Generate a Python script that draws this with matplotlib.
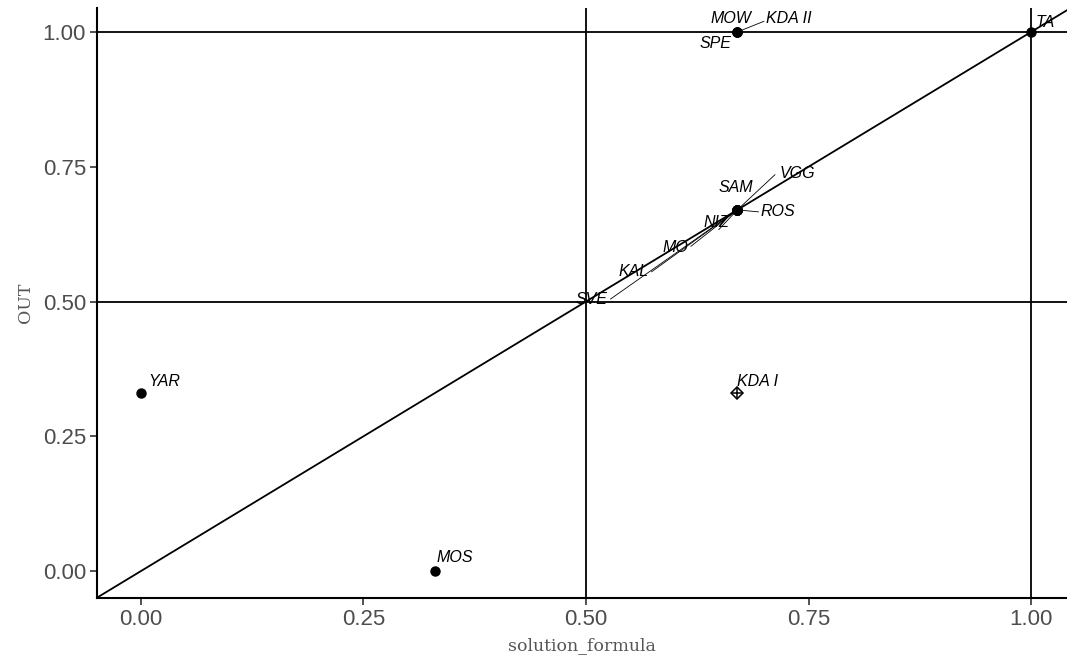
import matplotlib
matplotlib.use("Agg")
import matplotlib.pyplot as plt

# ---- data ----
cases = ["YAR", "MOS", "KDA I", "TA", "MOW", "KDA II", "SPE",
         "SAM", "VGG", "ROS", "NIZ", "MO", "KAL", "SVE"]
solution_formula = [0.0, 0.33, 0.67, 1.0, 0.67, 0.67, 0.67,
                    0.67, 0.67, 0.67, 0.67, 0.67, 0.67, 0.67]
OUT = [0.33, 0.0, 0.33, 1.0, 1.0, 1.0, 1.0,
       0.67, 0.67, 0.67, 0.67, 0.67, 0.67, 0.67]
deviant = ["KDA I"]  # drawn with diamond-plus shape
x_ticks = [0.0, 0.25, 0.50, 0.75, 1.00]
y_ticks = [0.0, 0.25, 0.50, 0.75, 1.00]
x_tick_labels = ["0.00", "0.25", "0.50", "0.75", "1.00"]
y_tick_labels = ["0.00", "0.25", "0.50", "0.75", "1.00"]

# label placement (pixel offsets from point, segment anchor on label or None)
label_offsets = {
    "YAR": (7, 12, None), "MOS": (2, 14, None), "KDA I": (0, 12, None),
    "TA": (5, 9, None), "MOW": (-27, 13, None), "KDA II": (29, 13, (-0.05, 0.35)),
    "SPE": (-38, -12, None), "SAM": (-19, 22, None), "VGG": (42, 36, (-0.12, 0.45)),
    "ROS": (23, -2, (-0.05, 0.5)), "NIZ": (-34, -13, (0.6, 0.05)),
    "MO": (-75, -38, (1.1, 0.6)), "KAL": (-119, -62, (1.1, 0.5)),
    "SVE": (-162, -90, (1.1, 0.55)),
}

fig = plt.figure(figsize=(10.67, 6.62), dpi=100)
ax = fig.add_axes([97/1067, 1 - 598/662, 1 - 97/1067, (598 - 8)/662])
ax.set_xlim(-0.0494, 1.0404)
ax.set_ylim(-0.050, 1.0445)

# reference lines
ax.axhline(0.5, color="black", lw=1.3, zorder=1)
ax.axhline(1.0, color="black", lw=1.3, zorder=1)
ax.axvline(0.5, color="black", lw=1.3, zorder=1)
ax.axvline(1.0, color="black", lw=1.3, zorder=1)
ax.axline((0, 0), slope=1, color="black", lw=1.3, zorder=1)

# points
for c, x, y in zip(cases, solution_formula, OUT):
    if c in deviant:
        ax.plot([x], [y], marker="D", ms=6.5, mfc="none", mec="black", mew=1.1, zorder=3)
        ax.plot([x], [y], marker="+", ms=7.5, mec="black", mew=1.1, zorder=3)
    else:
        ax.plot([x], [y], marker="o", ms=6.5, color="black", zorder=3)

# labels
for c, x, y in zip(cases, solution_formula, OUT):
    dx, dy, anchor = label_offsets[c]
    kw = {}
    if anchor is not None:
        kw["arrowprops"] = dict(arrowstyle="-", color="black", lw=0.6,
                                shrinkA=0, shrinkB=3, relpos=anchor,
                                patchA=None)
    ax.annotate(c, xy=(x, y), xytext=(dx, dy), textcoords="offset pixels",
                ha="left", va="center", fontsize=11.5, style="italic",
                family="Liberation Sans", color="black", zorder=4, **kw)

ax.set_xticks(x_ticks)
ax.set_xticklabels(x_tick_labels)
ax.set_yticks(y_ticks)
ax.set_yticklabels(y_tick_labels)
ax.tick_params(axis="both", length=5, width=1.2, color="#333333",
               labelsize=16, labelcolor="#4d4d4d", pad=3)
for lab in ax.get_xticklabels() + ax.get_yticklabels():
    lab.set_family("Liberation Sans")

for s in ["top", "right"]:
    ax.spines[s].set_visible(False)
for s in ["left", "bottom"]:
    ax.spines[s].set_linewidth(1.5)
    ax.spines[s].set_color("black")

ax.set_xlabel("solution_formula", family="DejaVu Serif", fontsize=12.5,
              color="#555555", labelpad=5)
ax.set_ylabel("OUT", family="DejaVu Serif", fontsize=12.5,
              color="#555555", labelpad=6)

fig.savefig("out.png", dpi=100)
